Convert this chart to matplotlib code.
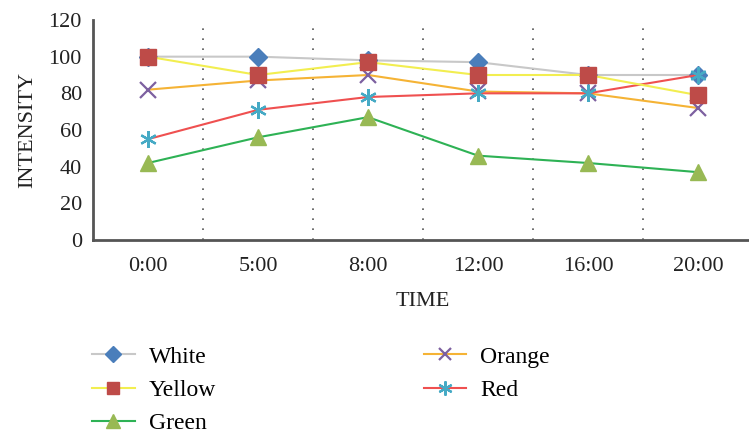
import matplotlib.pyplot as plt
from matplotlib.ticker import FixedLocator

# data
times = ["0:00", "5:00", "8:00", "12:00", "16:00", "20:00"]
white = [100, 100, 98, 97, 90, 90]
yellow = [100, 90, 97, 90, 90, 79]
green = [42, 56, 67, 46, 42, 37]
orange = [82, 87, 90, 81, 80, 72]
red = [55, 71, 78, 80, 80, 90]

plt.rcParams['font.family'] = ['Liberation Serif', 'DejaVu Serif']

fig = plt.figure(figsize=(7.49, 4.36), dpi=100)
ax = fig.add_axes([93 / 749, 1 - 240 / 436, 660 / 749, 220 / 436])

x = range(len(times))
ax.plot(x, white, color='#c8c8c8', lw=1.5, marker='D', ms=9,
        mfc='#4a7ebb', mec='#4a7ebb', label='White', zorder=3)
ax.plot(x, yellow, color='#f2ee50', lw=1.5, marker='s', ms=11,
        mfc='#be4b48', mec='#be4b48', label='Yellow', zorder=4)
ax.plot(x, green, color='#2eb255', lw=1.5, marker='^', ms=12,
        mfc='#98b954', mec='#98b954', label='Green', zorder=3)
ax.plot(x, orange, color='#f5b335', lw=1.5, marker='x', ms=11, mew=1.6,
        mfc='#7d60a0', mec='#7d60a0', label='Orange', zorder=3)
ax.plot(x, red, color='#ef5050', lw=1.5, marker=(6, 2, 0), ms=12, mew=1.6,
        mfc='#46aac5', mec='#46aac5', label='Red', zorder=3)

ax.set_xlim(-0.5, len(times) - 0.5)
ax.set_ylim(0, 120)
ax.set_yticks(range(0, 121, 20))
ax.set_xticks(list(x))
ax.set_xticklabels(times)
ax.xaxis.set_minor_locator(FixedLocator([i + 0.5 for i in range(len(times) - 1)]))
ax.grid(which='minor', axis='x', color='#555555', ls=(0, (1, 5)), lw=1.2)
ax.tick_params(which='both', length=0, labelsize=16, colors='#222222')
ax.tick_params(axis='x', pad=12)
ax.tick_params(axis='y', pad=8)

for s in ['top', 'right']:
    ax.spines[s].set_visible(False)
for s in ['left', 'bottom']:
    ax.spines[s].set_color('#555555')
    ax.spines[s].set_linewidth(2)

ax.set_ylabel('INTENSITY', fontsize=16, color='#222222', labelpad=8)
ax.set_xlabel('TIME', fontsize=16, color='#222222', labelpad=12)

fig.legend(loc='upper left', bbox_to_anchor=(92 / 749, 1 - 346 / 436), ncol=2,
           frameon=False, fontsize=17, handlelength=1.8, handletextpad=0.6,
           columnspacing=8.8, labelspacing=0.5, borderaxespad=0,
           borderpad=0, markerscale=0.85)

fig.savefig('out.png', dpi=100)
